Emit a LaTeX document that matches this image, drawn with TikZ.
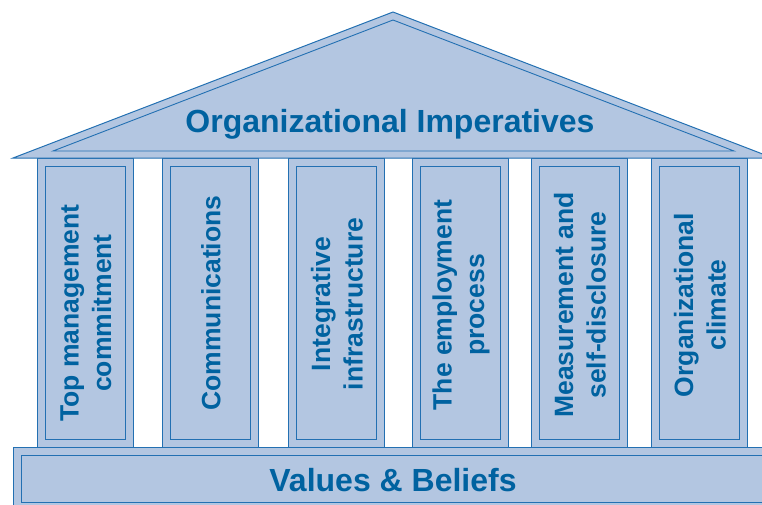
\documentclass[tikz,border=0pt]{standalone}
\usepackage{fontspec}
\setmainfont{Liberation Sans}
\definecolor{templefill}{RGB}{179,198,225}
\definecolor{templeline}{RGB}{35,112,178}
\definecolor{templetext}{RGB}{0,98,160}

\begin{document}
\begin{tikzpicture}[x=1pt, y=-1pt,
  part/.style={fill=templefill, draw=templeline, line width=1pt},
  trim/.style={draw=templeline, line width=0.9pt},
  pillartext/.style={text=templetext, font=\bfseries\fontsize{26.5}{32.5}\selectfont, align=center, rotate=90},
  bigtext/.style={text=templetext, font=\bfseries\fontsize{32}{38}\selectfont, anchor=base}]

\useasboundingbox (0,0) rectangle (762,504);
\clip (0,0) rectangle (762,504);

% Pillars
\foreach \x/\y/\txt [count=\i] in {37/313/{Top management\\commitment}, 162/303/{Communications},
    288/304/{Integrative\\infrastructure}, 412/305/{The employment\\process},
    531/305/{Measurement and\\self-disclosure}, 651/305/{Organizational\\climate}} {
  \draw[part] (\x,158) rectangle ++(96,289);
  \draw[trim] (\x+8,166) rectangle ++(80,273);
  \node[pillartext] (pillar\i) at (\x+49,\y) {\txt};
}

% Roof
\coordinate (apex) at (393,12);
\coordinate (eaveL) at (13,158);
\coordinate (eaveR) at (773,158);
\draw[part] (eaveL) -- (apex) -- (eaveR) -- cycle;
\draw[trim] (53,151) -- (393,20) -- (734,151) -- cycle;
\node[bigtext] (roof) at (390,132) {Organizational Imperatives};

% Base
\draw[part] (13,447) rectangle (780,520);
\draw[trim] (21,455) rectangle (770,502);
\node[bigtext] (base) at (393,491) {Values \& Beliefs};

\end{tikzpicture}
\end{document}
